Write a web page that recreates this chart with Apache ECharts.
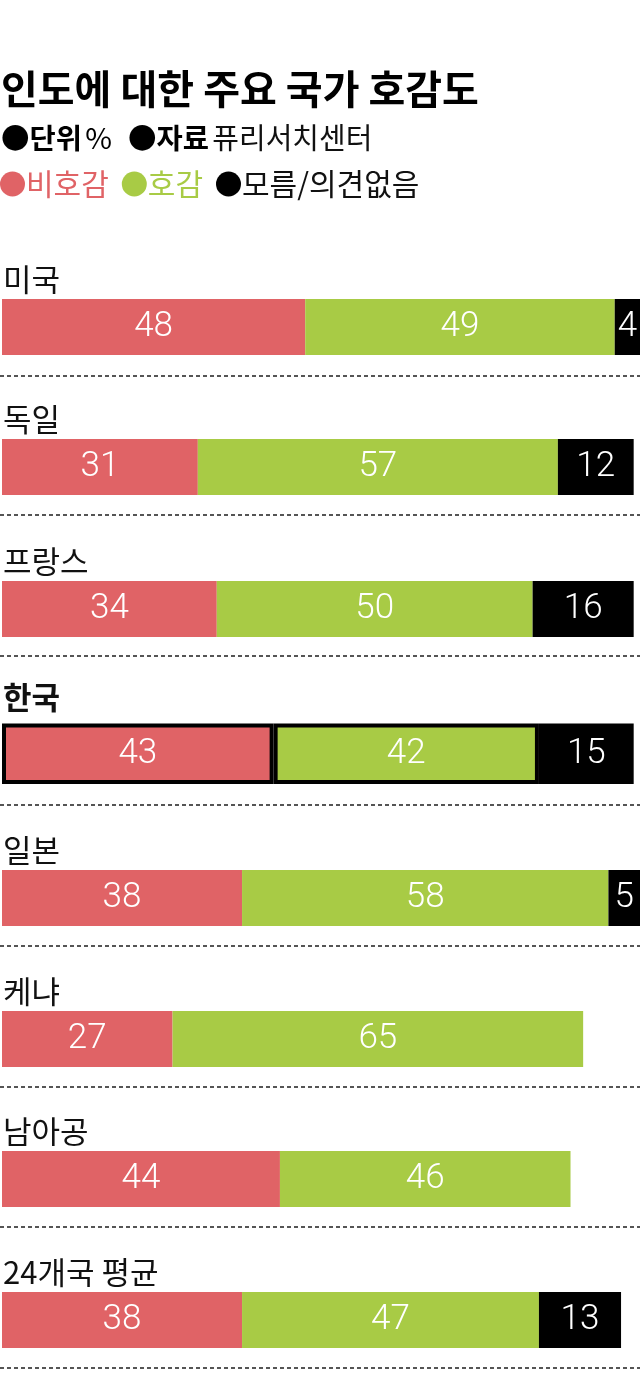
<!DOCTYPE html>
<html><head><meta charset="utf-8">
<script src="https://cdn.jsdelivr.net/npm/echarts@6/dist/echarts.min.js"></script>
<style>html,body{margin:0;padding:0;background:#fff}#c{width:640px;height:1396px}</style>
</head><body><div id="c"></div>
<script>
// ---- data ----
const countries = ['미국', '독일', '프랑스', '한국', '일본', '케냐', '남아공', '24개국 평균'];
const unfavorable = [48, 31, 34, 43, 38, 27, 44, 38];
const favorable = [49, 57, 50, 42, 58, 65, 46, 47];
const noOpinion = [4, 12, 16, 15, 5, null, null, 13];
const seriesNames = ['비호감', '호감', '모름/의견없음'];
const titleText = '인도에 대한 주요 국가 호감도';
const unitText = ['●단위', '%'];
const sourceText = ['●자료', '퓨리서치센터'];
const highlight = '한국';

// ---- style / layout ----
const colors = ['#E06366', '#A8CB45', '#000000'];
const FONT = "'Noto Sans CJK KR', 'Noto Sans', sans-serif";
const NUMFONT = "Roboto, 'Noto Sans', sans-serif";
const barTops = [299, 439, 581, 723.5, 870, 1011, 1151, 1292];
const dashY = [376, 515, 656, 805, 946, 1087, 1227, 1368];
const unitPx = 6.33, xMax = 101;

const chart = echarts.init(document.getElementById('c'), null, { renderer: 'canvas' });

const grids = [], xAxes = [], yAxes = [], series = [], graphics = [];
const allVals = [unfavorable, favorable, noOpinion];

countries.forEach((name, i) => {
  const hl = name === highlight;
  const h = hl ? 60.5 : 56;
  grids.push({ left: 2, top: barTops[i], width: xMax * unitPx, height: h, containLabel: false });
  xAxes.push({ type: 'value', gridIndex: i, min: 0, max: xMax, show: false });
  yAxes.push({ type: 'category', gridIndex: i, data: [name], show: false });
  allVals.forEach((arr, s) => {
    const v = arr[i];
    series.push({
      type: 'bar', name: seriesNames[s], stack: 'st' + i,
      xAxisIndex: i, yAxisIndex: i, barWidth: '100%',
      data: [v == null ? '-' : v],
      itemStyle: hl ? { color: colors[s], borderColor: '#000', borderWidth: 4 } : { color: colors[s] },
      label: { show: v != null, position: 'inside', color: '#fff', fontSize: 35,
               fontFamily: NUMFONT, fontWeight: 300 },
      silent: true
    });
  });
  graphics.push({
    type: 'text', x: 3, y: barTops[i] - (hl ? 26 : 20),
    style: { text: name, fill: '#111', font: (hl ? 'bold ' : '') + '31px ' + FONT, verticalAlign: 'middle' }
  });
});

dashY.forEach(y => graphics.push({
  type: 'line', shape: { x1: 0, y1: y, x2: 640, y2: y },
  style: { stroke: '#555', lineWidth: 2, lineDash: [4, 3] }
}));

graphics.push({ type: 'text', x: 1, y: 89,
  style: { text: titleText, fill: '#000', font: 'bold 40px ' + FONT, verticalAlign: 'middle' } });
graphics.push({ type: 'text', x: 1, y: 138,
  style: { text: '{b|' + unitText[0] + '} {n|' + unitText[1] + '}', verticalAlign: 'middle',
    rich: { b: { font: 'bold 28.5px ' + FONT, fill: '#000' }, n: { font: '29px ' + FONT, fill: '#000' } } } });
graphics.push({ type: 'text', x: 128, y: 138,
  style: { text: '{b|' + sourceText[0] + '} {n|' + sourceText[1] + '}', verticalAlign: 'middle',
    rich: { b: { font: 'bold 28.5px ' + FONT, fill: '#000' }, n: { font: '29px ' + FONT, fill: '#111' } } } });

chart.setOption({
  animation: false,
  backgroundColor: '#fff',
  grid: grids, xAxis: xAxes, yAxis: yAxes, series,
  legend: {
    left: 0, top: 169, padding: 0, icon: 'circle', itemWidth: 25, itemHeight: 25, itemGap: 13,
    selectedMode: false,
    textStyle: { fontSize: 30, fontFamily: FONT, padding: [0, 0, 0, -4] },
    data: seriesNames.map((n, s) => ({ name: n, itemStyle: { color: colors[s], borderWidth: 0 },
      textStyle: { color: s === 2 ? '#111' : colors[s], fontSize: 30, fontFamily: FONT } }))
  },
  graphic: graphics
});
</script></body></html>
